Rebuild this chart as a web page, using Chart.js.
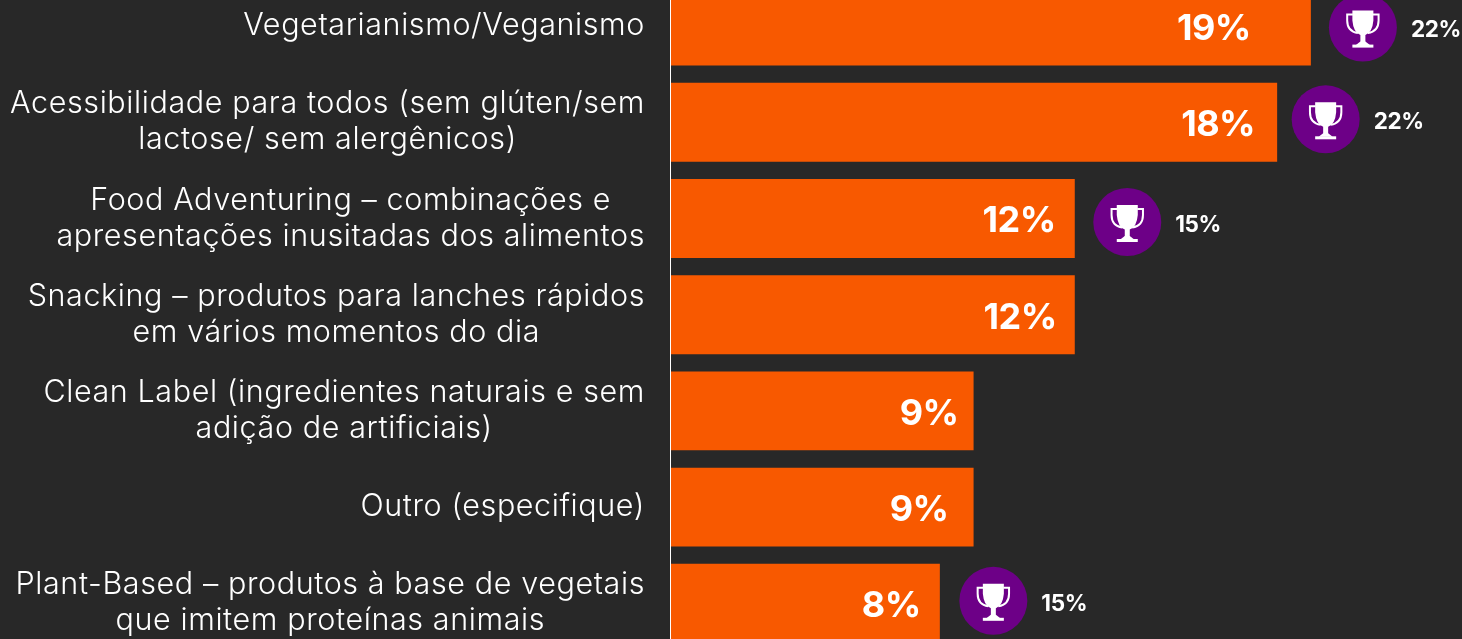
<!DOCTYPE html>
<html>
<head>
<meta charset="utf-8">
<script src="https://cdn.jsdelivr.net/npm/chart.js@4"></script>
<style>
  html, body { margin: 0; padding: 0; width: 1462px; height: 639px; overflow: hidden; background: #282828; }
  #chart { position: absolute; left: 0; top: -22px; }
</style>
</head>
<body>
<canvas id="chart" width="1462" height="674"></canvas>
<script>
const categories = [
  ['Vegetarianismo/Veganismo'],
  ['Acessibilidade para todos (sem glúten/sem', 'lactose/ sem alergênicos)'],
  ['Food Adventuring – combinações e', 'apresentações inusitadas dos alimentos'],
  ['Snacking – produtos para lanches rápidos', 'em vários momentos do dia'],
  ['Clean Label (ingredientes naturais e sem', 'adição de artificiais)'],
  ['Outro (especifique)'],
  ['Plant-Based – produtos à base de vegetais', 'que imitem proteínas animais'],
];
const shareValues = [19, 18, 12, 12, 9, 9, 8];
const trophyValues = [22, 22, 15, null, null, null, 15];

// the labels and badges are hand placed in the original, not evenly spaced
const valueInsets = [60, 22, 19, 18, 15, 25, 19];
const trophyGaps = [52, 48.5, 52.5, 52, 52, 52, 53.5];
const trophyLifts = [-1.5, 3, -3.5, 0, 0, 0, 2.5];

const ORANGE = '#f85900';
const PURPLE = '#6d0087';

function drawTrophy(ctx, cx, cy) {
  ctx.save();
  ctx.translate(cx, cy);
  ctx.fillStyle = '#fff';
  ctx.strokeStyle = '#fff';
  // cup
  ctx.beginPath();
  ctx.moveTo(-10.5, -16);
  ctx.lineTo(10.5, -16);
  ctx.lineTo(10.5, -6);
  ctx.quadraticCurveTo(9.5, 6, 2.5, 8.5);
  ctx.lineTo(2.5, 17);
  ctx.lineTo(-2.5, 17);
  ctx.lineTo(-2.5, 8.5);
  ctx.quadraticCurveTo(-9.5, 6, -10.5, -6);
  ctx.closePath();
  ctx.fill();
  // base
  ctx.fillRect(-10.5, 18, 21, 3);
  ctx.beginPath();
  ctx.moveTo(-7, 18.5);
  ctx.lineTo(-2.5, 15);
  ctx.lineTo(2.5, 15);
  ctx.lineTo(7, 18.5);
  ctx.closePath();
  ctx.fill();
  // handles
  ctx.lineWidth = 2;
  ctx.beginPath();
  ctx.moveTo(-10, -12);
  ctx.lineTo(-15.7, -12);
  ctx.lineTo(-15.7, -6);
  ctx.quadraticCurveTo(-15.7, 5, -5, 6.5);
  ctx.moveTo(10, -12);
  ctx.lineTo(15.7, -12);
  ctx.lineTo(15.7, -6);
  ctx.quadraticCurveTo(15.7, 5, 5, 6.5);
  ctx.stroke();
  ctx.restore();
}

const annotations = {
  id: 'annotations',
  afterDatasetsDraw(chart) {
    const { ctx, scales } = chart;
    const x = scales.x;
    const y = scales.y;
    ctx.save();
    ctx.textBaseline = 'middle';

    categories.forEach((lines, i) => {
      const mid = y.getPixelForValue(i);
      ctx.font = '300 30.5px Inter, sans-serif';
      ctx.letterSpacing = '0.6px';
      ctx.fillStyle = '#fff';
      ctx.textAlign = 'center';
      const widest = Math.max(...lines.map((l) => ctx.measureText(l).width));
      const cx = 645 - widest / 2;
      lines.forEach((line, k) => {
        const dy = (k - (lines.length - 1) / 2) * 36;
        ctx.fillText(line, cx, mid + dy);
      });

      const end = x.getPixelForValue(shareValues[i]);
      ctx.font = '700 36px Inter, sans-serif';
      ctx.letterSpacing = '-0.5px';
      ctx.textAlign = 'right';
      ctx.fillText(shareValues[i] + '%', end - valueInsets[i], mid + 3);

      if (trophyValues[i] !== null) {
        const tx = end + trophyGaps[i];
        const ty = mid - trophyLifts[i];
        ctx.fillStyle = PURPLE;
        ctx.beginPath();
        ctx.arc(tx, ty, 34, 0, Math.PI * 2);
        ctx.fill();
        drawTrophy(ctx, tx, ty - 1);
        ctx.fillStyle = '#fff';
        ctx.font = '700 22.5px Inter, sans-serif';
        ctx.letterSpacing = '-0.4px';
        ctx.textAlign = 'left';
        ctx.fillText(trophyValues[i] + '%', tx + 48, ty + 3);
      }
    });
    ctx.restore();
  },
};

new Chart(document.getElementById('chart').getContext('2d'), {
  type: 'bar',
  data: {
    labels: categories,
    datasets: [
      {
        data: shareValues,
        backgroundColor: ORANGE,
        barPercentage: 0.82,
        categoryPercentage: 1,
      },
    ],
  },
  options: {
    indexAxis: 'y',
    responsive: false,
    animation: false,
    layout: { padding: { bottom: 0.6 } },
    plugins: { legend: { display: false }, tooltip: { enabled: false } },
    scales: {
      x: { display: false, min: 0, max: 23.48 },
      y: {
        afterFit(scale) {
          scale.width = 670;
        },
        grid: { display: false },
        border: { color: '#ffffff', width: 1, z: 1 },
        ticks: { display: false },
      },
    },
  },
  plugins: [annotations],
});
</script>
</body>
</html>
